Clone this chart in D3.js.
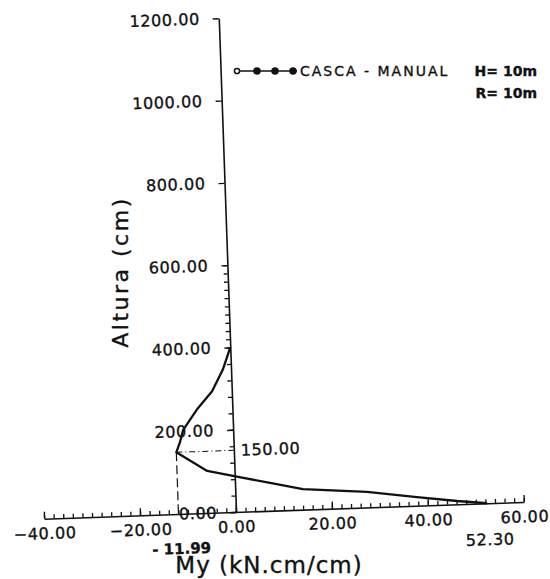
<!DOCTYPE html>
<html>
<head>
<meta charset="utf-8">
<script src="https://cdn.jsdelivr.net/npm/d3@7"></script>
<style>
  body { margin: 0; background: #fff; }
  text { font-family: "DejaVu Sans", sans-serif; fill: #111; stroke: #111; stroke-width: 0.35px; }
</style>
</head>
<body>
<svg id="chart" width="550" height="579"></svg>
<script>
// moment My (kN.cm/cm) along the wall height (cm)
const heights = [0, 8, 21, 38, 50, 68, 85, 102, 150, 173, 204, 252, 295, 347, 400];
const moments = [52.30, 46.1, 37.8, 27.4, 14.1, 7.3, 0.7, -5.7, -11.99, -11.2, -10.4, -7.4, -4.1, -1.7, 0];
const xTicks = [-40, -20, 0, 20, 40, 60];
const yTicks = [0, 200, 400, 600, 800, 1000, 1200];
const minH = 150, minM = -11.99, maxM = 52.30;
const legendLabel = "CASCA - MANUAL";
const legendNotes = ["H= 10m", "R= 10m"];

const svg = d3.select("#chart");
const x = d3.scaleLinear().domain([-40, 60]).range([44, 524]);
const y = d3.scaleLinear().domain([0, 1200]).range([512, 18]);

// the scanned plot is slightly tilted
const g = svg.append("g").attr("transform", `rotate(-2, ${x(0)}, ${y(0)})`);

// x axis: major ticks + labels
const xAxis = g.append("g")
  .attr("transform", `translate(0,${y(0)})`)
  .call(d3.axisBottom(x).tickValues(xTicks).tickFormat(d3.format(".2f"))
    .tickSizeInner(-7).tickSizeOuter(0).tickPadding(9));
xAxis.select(".domain").attr("stroke", "#111").attr("stroke-width", 1.6);
xAxis.selectAll(".tick line").attr("stroke", "#111").attr("stroke-width", 1.4);
xAxis.selectAll(".tick text")
  .attr("font-size", 16).attr("letter-spacing", "0.6px")
  .text(d => d < 0 ? "\u2212" + d3.format(".2f")(-d) : d3.format(".2f")(d));

// x minor ticks
g.append("g")
  .attr("transform", `translate(0,${y(0)})`)
  .call(d3.axisBottom(x).tickValues(d3.range(-40, 61, 2)).tickFormat("")
    .tickSizeInner(-4).tickSizeOuter(0))
  .call(a => a.select(".domain").remove())
  .selectAll("line").attr("stroke", "#111").attr("stroke-width", 1.3);

// y axis
const yAxis = g.append("g")
  .attr("transform", `translate(${x(0)},0)`)
  .call(d3.axisLeft(y).tickValues(yTicks).tickFormat(d3.format(".2f"))
    .tickSizeInner(6).tickSizeOuter(0).tickPadding(13));
yAxis.select(".domain").attr("stroke", "#111").attr("stroke-width", 1.6);
yAxis.selectAll(".tick line").attr("stroke", "#111").attr("stroke-width", 1.4);
yAxis.selectAll(".tick text").attr("font-size", 16).attr("letter-spacing", "0.6px");

// y minor ticks
const yMinor = d3.range(0, 400, 40).concat(d3.range(400, 601, 20));
g.append("g")
  .attr("transform", `translate(${x(0)},0)`)
  .call(d3.axisLeft(y).tickValues(yMinor).tickFormat("").tickSizeInner(4).tickSizeOuter(0))
  .call(a => a.select(".domain").remove())
  .selectAll("line").attr("stroke", "#111").attr("stroke-width", 1.3);

// reference lines at the minimum
g.append("line")
  .attr("x1", x(minM)).attr("y1", y(minH)).attr("x2", x(0)).attr("y2", y(minH))
  .attr("stroke", "#111").attr("stroke-width", 1).attr("stroke-dasharray", "6,3,1,3");
g.append("line")
  .attr("x1", x(minM)).attr("y1", y(minH)).attr("x2", x(minM)).attr("y2", y(0))
  .attr("stroke", "#111").attr("stroke-width", 1.2).attr("stroke-dasharray", "9,4");
g.append("text")
  .attr("x", x(0) + 7).attr("y", y(minH)).attr("dy", "0.35em")
  .attr("font-size", 16).attr("letter-spacing", "0.6px")
  .text(d3.format(".2f")(minH));
g.append("text")
  .attr("x", x(minM) + 2).attr("y", y(0) + 40)
  .attr("text-anchor", "middle").attr("font-size", 15).attr("font-weight", "bold")
  .text("- " + d3.format(".2f")(-minM));
g.append("text")
  .attr("x", x(maxM) + 2).attr("y", y(0) + 42)
  .attr("text-anchor", "middle").attr("font-size", 16).attr("letter-spacing", "0.6px")
  .text(d3.format(".2f")(maxM));

// moment curve
const line = d3.line().x((d, i) => x(moments[i])).y(d => y(d));
g.append("path")
  .datum(heights)
  .attr("d", line)
  .attr("fill", "none").attr("stroke", "#111").attr("stroke-width", 2.3)
  .attr("stroke-linejoin", "round");

// axis titles
svg.append("text")
  .attr("transform", "translate(128,272) rotate(-90)")
  .attr("text-anchor", "middle").attr("font-size", 22).attr("letter-spacing", "2.5px")
  .text("Altura (cm)");
svg.append("text")
  .attr("x", 269).attr("y", 573)
  .attr("text-anchor", "middle").attr("font-size", 23).attr("letter-spacing", "1px")
  .text("My (kN.cm/cm)");

// legend
const lg = svg.append("g").attr("transform", "translate(237,71)");
lg.append("line").attr("x1", 0).attr("x2", 60).attr("y1", 0).attr("y2", 0)
  .attr("stroke", "#111").attr("stroke-width", 1.5);
[0, 20, 38, 56].forEach((px, i) => {
  lg.append("circle").attr("cx", px).attr("cy", 0).attr("r", i === 0 ? 2.6 : 3)
    .attr("fill", i === 0 ? "#fff" : "#111").attr("stroke", "#111").attr("stroke-width", 1.5);
});
lg.append("text").attr("x", 63).attr("y", 0).attr("dy", "0.36em")
  .attr("font-size", 14).attr("letter-spacing", "2px").text(legendLabel);
svg.append("text").attr("x", 537).attr("y", 71).attr("dy", "0.36em")
  .attr("text-anchor", "end").attr("font-size", 14).attr("font-weight", "bold").text(legendNotes[0]);
svg.append("text").attr("x", 537).attr("y", 93).attr("dy", "0.36em")
  .attr("text-anchor", "end").attr("font-size", 14).attr("font-weight", "bold").text(legendNotes[1]);
</script>
</body>
</html>
